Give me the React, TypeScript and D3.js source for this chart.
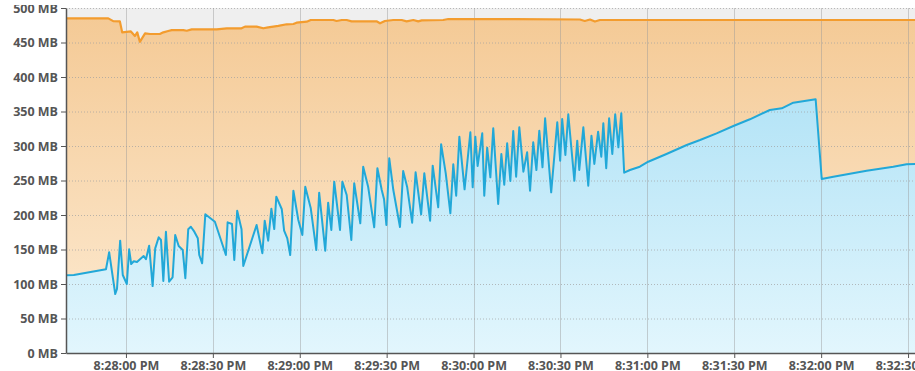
import React, { useEffect, useRef } from 'react';
import * as d3 from 'd3';

// seconds relative to 8:28:00 PM, memory in MB
const usedSeconds = [
  -20.7, -18.0, -6.9, -5.8, -3.7, -3.1, -2.0, -1.1, 0.3, 1.1, 1.8, 2.7, 3.8, 6.1, 6.9, 8.0, 9.2, 10.1, 11.3, 12.1,
  12.9, 13.8, 14.9, 16.1, 17.0, 18.2, 19.6, 20.5, 21.5, 22.4, 23.6, 24.8, 25.3, 26.3, 27.4, 30.7, 34.5, 35.1, 36.6, 37.4,
  38.4, 39.9, 40.5, 45.1, 47.1, 47.9, 49.1, 50.2, 51.2, 51.9, 53.8, 54.6, 55.7, 56.7, 57.8, 59.5, 60.9, 61.9, 63.8, 65.7,
  66.7, 68.8, 69.8, 70.9, 71.9, 73.9, 74.7, 76.2, 77.8, 78.8, 80.9, 81.9, 83.6, 85.7, 86.8, 88.3, 89.1, 89.9, 90.9, 92.3,
  94.6, 95.7, 97.1, 98.8, 100.0, 101.9, 103.0, 105.0, 105.9, 107.8, 108.8, 110.4, 112.0, 113.0, 114.0, 115.1, 116.9, 118.9, 119.7, 120.6,
  121.4, 123.0, 123.7, 124.7, 125.8, 126.8, 128.5, 129.6, 130.6, 131.6, 132.7, 133.7, 134.7, 135.8, 137.2, 138.5, 139.5, 140.6, 141.7, 142.7,
  143.8, 144.7, 146.8, 148.9, 149.9, 150.6, 151.7, 152.7, 154.8, 155.8, 156.5, 157.9, 159.6, 160.7, 161.7, 163.0, 164.1, 164.8, 165.8, 166.8,
  167.9, 168.9, 170.0, 171.0, 172.0, 174.0, 177.4, 180.3, 186.6, 193.6, 198.2, 203.9, 209.7, 215.4, 222.3, 226.4, 230.4, 238.1, 240.2, 244.2,
  255.7, 264.9, 269.5, 272.4, 276.0
];
const usedMB = [
  112.6, 113.0, 121.3, 146, 85.5, 92.8, 162.8, 113, 100, 150.3, 129, 133, 132, 140.6, 135.8, 155.5, 97, 151.7, 167.7, 163.8,
  104.3, 175.8, 103.3, 109.7, 171, 155, 149.3, 108.3, 179.3, 183, 175.8, 166.2, 142, 130, 201, 190.3, 142, 189.4, 187, 134.8,
  206.2, 179.3, 126, 185.5, 144.5, 191.7, 162.8, 209.1, 179.7, 226.5, 208.3, 177.2, 166.2, 142, 235.2, 192.8, 171, 241, 209.7, 149.3,
  232.3, 148.3, 217.8, 178.3, 248.3, 178.3, 248.3, 229, 163.8, 246, 188, 270, 241, 182.2, 267.7, 236.2, 222.8, 185.5, 282.2, 236.2,
  182.6, 263.8, 240.1, 188.8, 261.9, 201, 260.4, 191.7, 271.5, 211.2, 302.5, 260.4, 202.5, 273.5, 228, 313.5, 237.2, 319.9, 240.1, 313.5,
  271, 318.4, 228, 297.5, 254.6, 325.7, 216, 288.4, 243.9, 303.9, 249.3, 321.7, 255.5, 327.1, 262.8, 290.9, 235.2, 305.4, 265.2, 322.2,
  269.1, 340.1, 232.9, 334.4, 278.7, 339.1, 287, 346, 249.7, 307.7, 265.2, 327.1, 242.5, 314.9, 273.9, 320.7, 284.5, 332.9, 267.7, 340.1,
  288.4, 346, 298.1, 347.4, 261.3, 265.2, 270, 277.2, 288.4, 301.5, 308.7, 318.4, 329, 338.7, 352.2, 354.6, 362.8, 367.7, 252.2, 255.5,
  264.2, 270, 273.5, 273.9, 274.5
];

const totalSeconds = [
  -20.7, -6.1, -4.4, -2.1, -1.3, 1.7, 3.1, 3.9, 4.8, 6.6, 8.3, 11.7, 12.9, 14.6, 15.8, 19.8, 21.0, 22.7, 31.3, 34.8,
  39.9, 41.1, 45.1, 47.4, 49.1, 52.6, 55.5, 57.8, 58.9, 62.4, 63.8, 71.6, 72.7, 74.5, 76.2, 77.9, 86.5, 87.7, 89.4, 92.3,
  95.2, 96.9, 99.2, 100.9, 102.1, 109.5, 111.3, 115.3, 134.3, 156.7, 158.4, 160.2, 161.9, 163.6, 276.0
];
const totalMB = [
  485, 485, 481, 480.6, 464.7, 466, 459.4, 464.7, 451, 463.3, 462.3, 462.3, 464.7, 466.6, 468, 468, 467, 469, 469, 470.6,
  470.6, 473, 473, 470.6, 472, 474, 476.4, 476.8, 478.7, 480.2, 482.6, 482.6, 481.2, 482.6, 482.6, 480.7, 480.7, 477.8, 481.2, 482.6,
  482.6, 480.7, 482.6, 480.7, 482.1, 482.6, 484, 484, 484, 483.3, 481.2, 483.3, 480.4, 482.6, 482.6
];

const yTicks = [0, 50, 100, 150, 200, 250, 300, 350, 400, 450, 500];
const xTickSeconds = [0, 30, 60, 90, 120, 150, 180, 210, 240, 270];

const base = new Date(2020, 0, 1, 20, 28, 0);
const at = (s: number) => new Date(base.getTime() + s * 1000);

export default function App() {
  const ref = useRef<SVGSVGElement>(null);

  useEffect(() => {
    const width = 915, height = 371;
    const margin = { top: 8, right: 0, bottom: 18, left: 66 };
    const font = '"Open Sans", sans-serif';

    const svg = d3.select(ref.current);
    svg.selectAll('*').remove();

    const x = d3.scaleTime().domain([at(-20.7), at(272.4)]).range([margin.left, width - margin.right]);
    const y = d3.scaleLinear().domain([0, 500]).range([height - margin.bottom, margin.top]);

    const defs = svg.append('defs');
    defs.append('clipPath').attr('id', 'plot')
      .append('rect')
      .attr('x', margin.left).attr('y', margin.top)
      .attr('width', width - margin.left).attr('height', y(0) - margin.top);
    // the chart is scrolled a little, the top label is cut
    defs.append('clipPath').attr('id', 'view')
      .append('rect')
      .attr('x', 0).attr('y', 5)
      .attr('width', width).attr('height', height - 5);

    const grad = (id: string, top: string, bottom: string) => {
      const g = defs.append('linearGradient').attr('id', id)
        .attr('gradientUnits', 'userSpaceOnUse')
        .attr('x1', 0).attr('x2', 0).attr('y1', y(500)).attr('y2', y(0));
      g.append('stop').attr('offset', '0%').attr('stop-color', top);
      g.append('stop').attr('offset', '100%').attr('stop-color', bottom);
    };
    grad('orangeFill', '#f4c994', '#fdebd3');
    grad('blueFill', '#a3ddf4', '#e2f6fd');

    const plot = svg.append('g').attr('clip-path', 'url(#plot)');
    plot.append('rect')
      .attr('x', margin.left).attr('y', margin.top)
      .attr('width', width - margin.left).attr('height', y(0) - margin.top)
      .attr('fill', '#efefef');

    const total = totalSeconds.map((s, i) => ({ t: at(s), v: totalMB[i] }));
    const used = usedSeconds.map((s, i) => ({ t: at(s), v: usedMB[i] }));

    const area = d3.area<{ t: Date; v: number }>().x(d => x(d.t)).y0(y(0)).y1(d => y(d.v));
    const line = d3.line<{ t: Date; v: number }>().x(d => x(d.t)).y(d => y(d.v));

    plot.append('path').datum(total).attr('d', area).attr('fill', 'url(#orangeFill)');
    plot.append('path').datum(used).attr('d', area).attr('fill', 'url(#blueFill)');

    // grid
    plot.append('g').selectAll('line').data(yTicks.slice(1)).join('line')
      .attr('x1', margin.left).attr('x2', width)
      .attr('y1', d => y(d) + 0.5).attr('y2', d => y(d) + 0.5)
      .attr('stroke', '#a0a0a0').attr('stroke-opacity', 0.7)
      .attr('stroke-dasharray', '1,2');
    plot.append('g').selectAll('line').data(xTickSeconds).join('line')
      .attr('x1', d => Math.round(x(at(d))) + 0.5).attr('x2', d => Math.round(x(at(d))) + 0.5)
      .attr('y1', margin.top).attr('y2', y(0))
      .attr('stroke', '#9a9a9a').attr('stroke-opacity', 0.45);

    plot.append('path').datum(total).attr('d', line)
      .attr('fill', 'none').attr('stroke', '#f39c2e').attr('stroke-width', 2.2).attr('stroke-linejoin', 'round');
    plot.append('path').datum(used).attr('d', line)
      .attr('fill', 'none').attr('stroke', '#22a8d8').attr('stroke-width', 2).attr('stroke-linejoin', 'round');

    // axes
    const yAxis = d3.axisLeft(y).tickValues(yTicks).tickSize(5).tickSizeOuter(0)
      .tickFormat(d => `${d} MB`);
    const gy = svg.append('g').attr('clip-path', 'url(#view)')
      .append('g').attr('transform', `translate(${margin.left},0)`).call(yAxis);
    gy.select('.domain').attr('stroke', '#555').attr('stroke-width', 1.5);
    gy.selectAll('.tick line').attr('stroke', '#555');
    gy.selectAll('.tick text').attr('x', -8).attr('fill', '#555')
      .style('font-family', font).style('font-size', '12.5px').style('font-weight', 700);

    const xAxis = d3.axisBottom(x).tickValues(xTickSeconds.map(at)).tickSize(5).tickSizeOuter(0)
      .tickFormat(d => d3.timeFormat('%-I:%M:%S %p')(d as Date));
    const gx = svg.append('g').attr('transform', `translate(0,${y(0)})`).call(xAxis);
    gx.select('.domain').attr('stroke', '#555').attr('stroke-width', 1.5);
    gx.selectAll('.tick line').attr('stroke', '#555');
    gx.selectAll('.tick text').attr('y', 8).attr('fill', '#555')
      .style('font-family', font).style('font-size', '12.5px').style('font-weight', 700);
  }, []);

  return (
    <svg ref={ref} width={915} height={371}
      style={{ position: 'absolute', left: 0, top: 0, display: 'block' }} />
  );
}
